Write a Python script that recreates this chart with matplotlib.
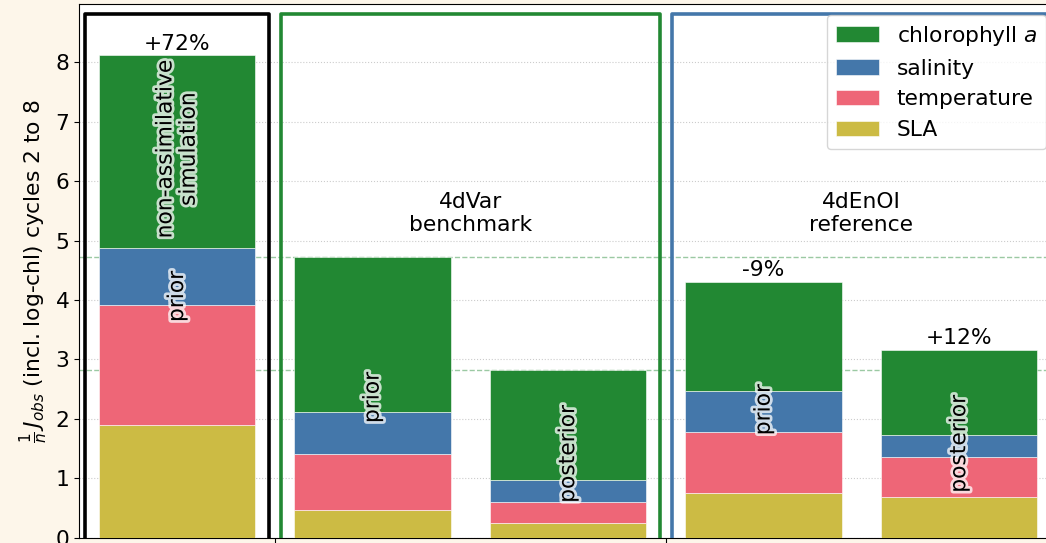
import numpy as np
import matplotlib
matplotlib.use('Agg')
import matplotlib.pyplot as plt
import matplotlib.patheffects as pe
from matplotlib.patches import Rectangle

# stacked components per run (bottom to top)
runs = ['free', '4dvar_prior', '4dvar_post', '4denoi_prior', '4denoi_post']
sla = [1.89, 0.46, 0.25, 0.76, 0.69]
temperature = [2.03, 0.95, 0.35, 1.02, 0.66]
salinity = [0.96, 0.71, 0.37, 0.69, 0.38]
chlorophyll = [3.24, 2.60, 1.85, 1.84, 1.43]

stage_labels = ['prior', 'prior', 'posterior', 'prior', 'posterior']
change_labels = ['+72%', '', '', '-9%', '+12%']
group_titles = ['', '4dVar\nbenchmark', '4dEnOI\nreference']
group_spans = [(0, 0), (1, 2), (3, 4)]

green = '#228833'
blue = '#4477AA'
red = '#EE6677'
yellow = '#CCBB44'

FS = 15.7


def main():
    fig = plt.figure(figsize=(10.46, 5.43), dpi=100, facecolor='#fdf6ea')
    ax = fig.add_axes([0.0758, 0.0098, 0.9347, 0.9828])

    x = np.arange(len(runs))
    s = np.array(sla)
    t = np.array(temperature)
    sa = np.array(salinity)
    c = np.array(chlorophyll)
    total = s + t + sa + c

    kw = dict(width=0.8, edgecolor='white', linewidth=0.4, zorder=3)
    ax.bar(x, s, color=yellow, label='SLA', **kw)
    ax.bar(x, t, bottom=s, color=red, label='temperature', **kw)
    ax.bar(x, sa, bottom=s + t, color=blue, label='salinity', **kw)
    ax.bar(x, c, bottom=s + t + sa, color=green, label='chlorophyll $a$', **kw)

    # reference lines at 4dVar totals
    for v in total[1:3]:
        ax.axhline(v, color=green, alpha=0.45, ls='--', lw=1, zorder=1)

    glow = [pe.withStroke(linewidth=4, foreground='white', alpha=0.75)]
    for i in x:
        ax.text(i, total[i] / 2, stage_labels[i], rotation=90, ha='center', va='center',
                fontsize=FS, zorder=5, path_effects=glow)
        if change_labels[i]:
            ax.annotate(change_labels[i], (i, total[i]), xytext=(0, 1), textcoords='offset points',
                        ha='center', va='bottom', fontsize=FS, zorder=5)
    ax.text(0, 0.805 * total[0], 'non-assimilative\nsimulation', rotation=90, ha='center',
            va='center', fontsize=FS, zorder=5, path_effects=glow)

    # group boxes
    for (a, b), col, title in zip(group_spans, ['black', green, blue], group_titles):
        ax.add_patch(Rectangle((a - 0.47, -1), b - a + 0.94, 9.82, fill=False, edgecolor=col,
                               lw=2.6, joinstyle='round', zorder=4))
        if title:
            ax.text((a + b) / 2, 5.45, title, ha='center', va='center', fontsize=FS, zorder=5)

    ax.set_xlim(-0.5, 4.5)
    ax.set_ylim(0, 8.98)
    ax.set_xticks([0.5, 2.5])
    ax.set_xticklabels(['', ''])
    ax.set_yticks(range(9))
    ax.tick_params(labelsize=FS)
    ax.yaxis.grid(True, color='#cccccc', ls=':', lw=0.8, zorder=0)
    ax.set_axisbelow(True)
    ax.set_ylabel(r'$\frac{1}{n}\,J_{obs}$ (incl. log-chl) cycles 2 to 8', fontsize=FS)

    h, l = ax.get_legend_handles_labels()
    ax.legend(h[::-1], l[::-1], loc='upper right', fontsize=FS).set_zorder(10)

    fig.savefig('out.png', facecolor=fig.get_facecolor())


if __name__ == "__main__":
    main()
